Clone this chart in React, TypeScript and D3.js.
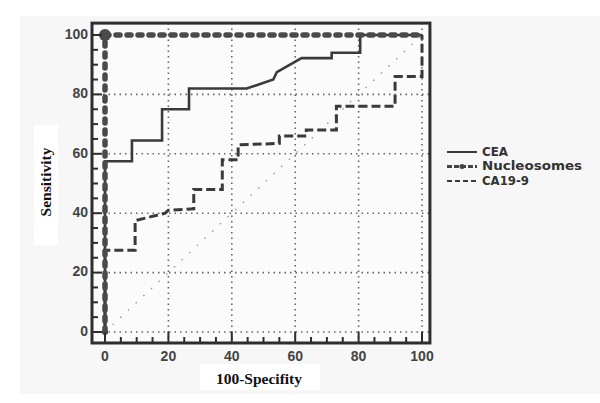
import React from "react";
import * as d3 from "d3";

const ticks = [0, 20, 40, 60, 80, 100];
const minorTicks = [5, 10, 15, 25, 30, 35, 45, 50, 55, 65, 70, 75, 85, 90, 95];
const gridX = [20, 40, 60, 80, 100];
const gridY = [0, 20, 40, 60, 80];

const ceaX = [0, 0, 8.5, 8.5, 18, 18, 26.5, 26.5, 44.7, 53.1, 54.2, 62, 71.5, 71.5, 80.5, 80.5, 100];
const ceaY = [0, 57.5, 57.5, 64.5, 64.5, 75, 75, 82, 82, 85, 87.5, 92.2, 92.2, 94, 94, 100, 100];

const nucX = [0, 0, 100];
const nucY = [0, 100, 100];

const caX = [0, 0, 9.5, 9.5, 19, 20, 28, 28, 37, 37, 42, 42, 55, 55, 63.5, 63.5, 73, 73, 91.5, 91.5, 100, 100];
const caY = [0, 27.5, 27.5, 37.5, 40, 41, 41.5, 48, 48, 58, 58, 63, 63.5, 66, 66, 68, 68, 76, 76, 86, 86, 100];

const legendNames = ["CEA", "Nucleosomes", "CA19-9"];

export default function App() {
  const x = d3.scaleLinear().domain([0, 100]).range([105, 422]);
  const y = d3.scaleLinear().domain([0, 100]).range([332, 35]);
  const line = d3
    .line<[number, number]>()
    .x((d) => x(d[0]))
    .y((d) => y(d[1]));
  const pts = (xs: number[], ys: number[]) => xs.map((v, i) => [v, ys[i]] as [number, number]);

  const fx0 = x(-4.1), fx1 = x(102.5), fy0 = y(104), fy1 = y(-3.7);
  const ink = "#3a3a3a";
  const axisFont = "'Liberation Sans', Arial, sans-serif";
  const legendFont = "'DejaVu Sans', Verdana, sans-serif";
  const serif = "'Liberation Serif', 'Times New Roman', serif";

  return (
    <svg width={600} height={403} style={{ display: "block", position: "absolute", left: 0, top: 0 }}>
      <rect x={0} y={0} width={600} height={403} fill="#ffffff" />
      <rect x={20} y={16} width={580} height={378} fill="#f7f7f7" />
      <rect x={fx0} y={fy0} width={fx1 - fx0} height={fy1 - fy0} fill="#fbfbfb" />
      {/* grid */}
      {gridX.map((t) => (
        <line key={"gx" + t} x1={x(t)} x2={x(t)} y1={fy0} y2={fy1} stroke="#666" strokeWidth={1.6} strokeDasharray="1.5 4" />
      ))}
      {gridY.map((t) => (
        <line key={"gy" + t} x1={fx0} x2={fx1} y1={y(t)} y2={y(t)} stroke="#666" strokeWidth={1.6} strokeDasharray="1.5 4" />
      ))}
      <line x1={x(0)} y1={y(0)} x2={x(100)} y2={y(100)} stroke="#999" strokeWidth={1.4} strokeDasharray="1.5 9" />
      {/* series */}
      <path d={line(pts(caX, caY)) || ""} fill="none" stroke={ink} strokeWidth={3} strokeDasharray="9 4" />
      <path d={line(pts(ceaX, ceaY)) || ""} fill="none" stroke={ink} strokeWidth={2.6} />
      <path d={line(pts(nucX, nucY)) || ""} fill="none" stroke="#4a4a4a" strokeWidth={5.5} strokeDasharray="4 7" strokeLinecap="round" />
      <circle cx={x(0)} cy={y(100)} r={6} fill="#4a4a4a" />
      <circle cx={x(0)} cy={y(0)} r={3} fill="#4a4a4a" />
      {/* frame */}
      <rect x={fx0} y={fy0} width={fx1 - fx0} height={fy1 - fy0} fill="none" stroke="#2e2e2e" strokeWidth={3} />
      {/* ticks */}
      {ticks.map((t) => (
        <g key={"t" + t}>
          <line x1={x(t)} x2={x(t)} y1={fy1} y2={fy1 - 11} stroke="#2e2e2e" strokeWidth={2} />
          <line x1={fx0} x2={fx0 + 10} y1={y(t)} y2={y(t)} stroke="#2e2e2e" strokeWidth={2} />
          <text x={x(t)} y={357} textAnchor="middle" fontFamily={axisFont} fontWeight="bold" fontSize={14} fill="#444" dominantBaseline="middle">
            {t}
          </text>
          <text x={88} y={y(t)} textAnchor="end" fontFamily={axisFont} fontWeight="bold" fontSize={14} fill="#444" dominantBaseline="middle">
            {t}
          </text>
        </g>
      ))}
      {minorTicks.map((t) => (
        <g key={"m" + t}>
          <line x1={x(t)} x2={x(t)} y1={fy1} y2={fy1 - 6} stroke="#2e2e2e" strokeWidth={2} />
          <line x1={fx0} x2={fx0 + 6} y1={y(t)} y2={y(t)} stroke="#2e2e2e" strokeWidth={2} />
        </g>
      ))}
      {/* titles */}
      <rect x={34} y={125} width={24} height={120} fill="#ffffff" />
      <text transform={`translate(51,${182}) rotate(-90)`} textAnchor="middle" fontFamily={serif} fontWeight="bold" fontSize={15.5} fill="#111">
        Sensitivity
      </text>
      <rect x={200} y={364} width={120} height={26} fill="#ffffff" />
      <text x={259} y={384} textAnchor="middle" fontFamily={serif} fontWeight="bold" fontSize={15.5} fill="#111">
        100-Specifity
      </text>
      {/* legend */}
      {legendNames.map((n, i) => {
        const ly = 152 + i * 14.5;
        return (
          <g key={n}>
            {i === 0 && <line x1={447} x2={477} y1={ly} y2={ly} stroke={ink} strokeWidth={2} />}
            {i === 1 && (
              <g>
                <line x1={447} x2={477} y1={ly} y2={ly} stroke="#444" strokeWidth={3} strokeDasharray="5 2" />
                <circle cx={462} cy={ly} r={2.5} fill="#444" />
              </g>
            )}
            {i === 2 && <line x1={447} x2={477} y1={ly} y2={ly} stroke={ink} strokeWidth={2} strokeDasharray="5 3" />}
            <text x={482} y={ly} dominantBaseline="middle" fontFamily={legendFont} fontWeight="bold" fontSize={12} fill="#333"
              textLength={n === "Nucleosomes" ? 100 : n === "CEA" ? 26 : 47} lengthAdjust="spacingAndGlyphs">
              {n}
            </text>
          </g>
        );
      })}
    </svg>
  );
}
